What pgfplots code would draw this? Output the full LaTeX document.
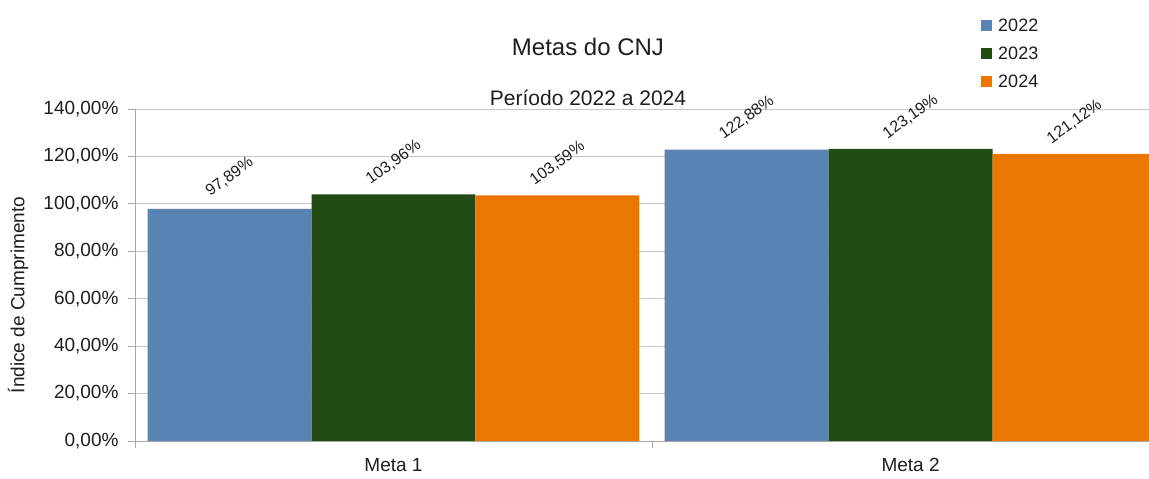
\documentclass[border=0pt]{standalone}
\usepackage{pgfplots}
\pgfplotsset{compat=1.18}
\usepackage{fontspec}
\setmainfont{Liberation Sans}
\definecolor{c22}{RGB}{89,131,178}
\definecolor{c23}{RGB}{35,76,20}
\definecolor{c24}{RGB}{235,118,0}
\definecolor{txt}{RGB}{30,30,30}
\begin{document}
\begin{tikzpicture}
\begin{axis}[
  name=ax, at={(0,0)}, anchor=south west,
  scale only axis, width=1014pt, height=332pt,
  xmin=0, xmax=1.961, ymin=0, ymax=140,
  axis x line*=bottom, axis y line*=left,
  axis line style={-, draw=gray!70, line width=0.8pt},
  ybar,
  ytick={0,20,...,140},
  ymajorgrids, grid style={gray!45, line width=0.8pt},
  yticklabel={\pgfmathprintnumber[fixed,fixed zerofill,precision=2,use comma,assume math mode=true]{\tick}\%},
  tick align=outside, major tick length=7pt,
  tick style={draw=gray!70, line width=0.8pt},
  xtick={0,1}, xticklabels={,,},
  extra x ticks={0.5,1.5}, extra x tick labels={Meta 1,Meta 2},
  extra x tick style={major tick length=0pt, grid=none},
  tick label style={font=\fontsize{19pt}{22pt}\selectfont, text=txt},
  yticklabel shift=6pt,
  xticklabel shift=14pt,
  nodes near coords={\pgfmathprintnumber[fixed,fixed zerofill,precision=2,use comma,assume math mode=true]{\pgfplotspointmeta}\%},
  every node near coord/.append style={font=\fontsize{16pt}{18pt}\selectfont, text=txt, anchor=center, yshift=32pt, rotate=36},
  legend style={draw=none, fill=none, at={(0.8314,1.285)}, anchor=north west,
    font=\fontsize{18pt}{21pt}\selectfont, text=txt, row sep=10pt,
    /tikz/every odd column/.append style={column sep=4pt}},
  legend image code/.code={\fill[#1] (0pt,-5.5pt) rectangle (11pt,5.5pt);},
]
\addplot[fill=c22, draw=none, bar width=0.317, bar shift=0pt] coordinates {(0.183,97.89) (1.183,122.88)};
\addplot[fill=c23, draw=none, bar width=0.317, bar shift=0pt] coordinates {(0.5,103.96) (1.5,123.19)};
\addplot[fill=c24, draw=none, bar width=0.317, bar shift=0pt] coordinates {(0.817,103.59) (1.817,121.12)};
\legend{2022,2023,2024}
\end{axis}
\node[font=\fontsize{24pt}{28pt}\selectfont, text=txt] at (453pt,394pt) {Metas do CNJ};
\node[font=\fontsize{21pt}{24pt}\selectfont, text=txt] at (453pt,343pt) {Período 2022 a 2024};
\node[rotate=90, font=\fontsize{19pt}{22pt}\selectfont, text=txt] at (-117pt,146pt) {Índice de Cumprimento};
\pgfresetboundingbox
\path[use as bounding box] (-135pt,-38pt) rectangle (1014pt,441pt);
\end{tikzpicture}
\end{document}
